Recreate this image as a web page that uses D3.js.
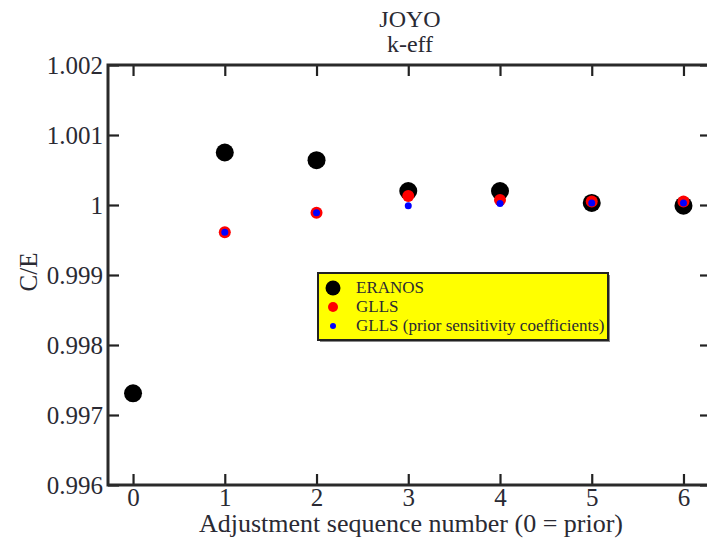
<!DOCTYPE html>
<html>
<head>
<meta charset="utf-8">
<script src="https://cdn.jsdelivr.net/npm/d3@7"></script>
<style>
  body { margin: 0; background: #fff; }
  text { font-family: "Liberation Serif", "Times New Roman", serif; fill: #2a2a33; }
</style>
</head>
<body>
<div id="chart"></div>
<script>
// data
const steps = [0, 1, 2, 3, 4, 5, 6];
const eranos = [0.99731, 1.00075, 1.00064, 1.00020, 1.00020, 1.00003, 0.99999];
const glls = [null, 0.99961, 0.99989, 1.00013, 1.00007, 1.00005, 1.00005];
const gllsPrior = [null, 0.99961, 0.99989, 0.99999, 1.00002, 1.00003, 1.00003];
const yTicks = [0.996, 0.997, 0.998, 0.999, 1, 1.001, 1.002];

const width = 707, height = 540;
const margin = { top: 65, right: -4, bottom: 55, left: 108 };

const svg = d3.select("#chart").append("svg")
    .attr("width", width)
    .attr("height", height);

const x = d3.scaleLinear()
    .domain([-0.273, 6.3])
    .range([margin.left, width - margin.right]);

const y = d3.scaleLinear()
    .domain([0.996, 1.002])
    .range([height - margin.bottom, margin.top]);

const x0 = x.range()[0], x1 = x.range()[1];
const y0 = y.range()[0], y1 = y.range()[1];

// ticks (inward on all four sides)
const fmt = d => d === 1 ? "1" : d3.format(".3f")(d);

const gL = svg.append("g")
    .attr("transform", `translate(${x0},0)`)
    .call(d3.axisLeft(y).tickValues(yTicks).tickSizeInner(-11).tickSizeOuter(0).tickPadding(5).tickFormat(fmt));
const gR = svg.append("g")
    .attr("transform", `translate(${x1},0)`)
    .call(d3.axisRight(y).tickValues(yTicks).tickSizeInner(-11).tickSizeOuter(0).tickFormat(""));
const gB = svg.append("g")
    .attr("transform", `translate(0,${y0})`)
    .call(d3.axisBottom(x).tickValues(steps).tickSizeInner(-11).tickSizeOuter(0).tickPadding(3).tickFormat(d3.format("d")));
const gT = svg.append("g")
    .attr("transform", `translate(0,${y1})`)
    .call(d3.axisTop(x).tickValues(steps).tickSizeInner(-11).tickSizeOuter(0).tickFormat(""));

[gL, gR, gB, gT].forEach(g => {
    g.attr("font-family", null);
    g.select(".domain").remove();
    g.selectAll(".tick line").attr("stroke", "#222").attr("stroke-width", 2.2);
    g.selectAll("text").attr("font-size", 25).attr("fill", "#2a2a33");
});

// frame
svg.append("rect")
    .attr("x", x0).attr("y", y1)
    .attr("width", x1 - x0).attr("height", y0 - y1)
    .attr("fill", "none")
    .attr("stroke", "#2a2a2a")
    .attr("stroke-width", 3);

// titles
svg.append("text").attr("x", 410).attr("y", 27)
    .attr("text-anchor", "middle").attr("font-size", 24).text("JOYO");
svg.append("text").attr("x", 410).attr("y", 52)
    .attr("text-anchor", "middle").attr("font-size", 24).text("k-eff");

svg.append("text").attr("x", 411).attr("y", 532)
    .attr("text-anchor", "middle").attr("font-size", 26)
    .text("Adjustment sequence number (0 = prior)");

svg.append("text")
    .attr("transform", "translate(37,272) rotate(-90)")
    .attr("text-anchor", "middle").attr("font-size", 25).text("C/E");

// markers
const series = [
    { name: "ERANOS", values: eranos, color: "#000", r: 9 },
    { name: "GLLS", values: glls, color: "#ff0000", r: 6 },
    { name: "GLLS (prior sensitivity coefficients)", values: gllsPrior, color: "#0000ff", r: 3.5 }
];

series.forEach(s => {
    svg.append("g").selectAll("circle")
        .data(steps.map((t, i) => ({ t, v: s.values[i] })).filter(d => d.v !== null))
        .enter().append("circle")
        .attr("cx", d => x(d.t))
        .attr("cy", d => y(d.v))
        .attr("r", s.r)
        .attr("fill", s.color);
});

// legend
const lg = svg.append("g").attr("transform", "translate(318,273)");
lg.append("rect").attr("x", 2).attr("y", 2).attr("width", 290).attr("height", 67).attr("fill", "#888");
lg.append("rect").attr("width", 290).attr("height", 67)
    .attr("fill", "#ffff00").attr("stroke", "#222").attr("stroke-width", 2);

const legR = [7.5, 5, 3];
series.forEach((s, i) => {
    const ly = 15 + i * 19;
    lg.append("circle").attr("cx", 15).attr("cy", ly).attr("r", legR[i]).attr("fill", s.color);
    lg.append("text").attr("x", 38).attr("y", ly + 5).attr("font-size", 17).attr("fill", "#333").text(s.name);
});
</script>
</body>
</html>
